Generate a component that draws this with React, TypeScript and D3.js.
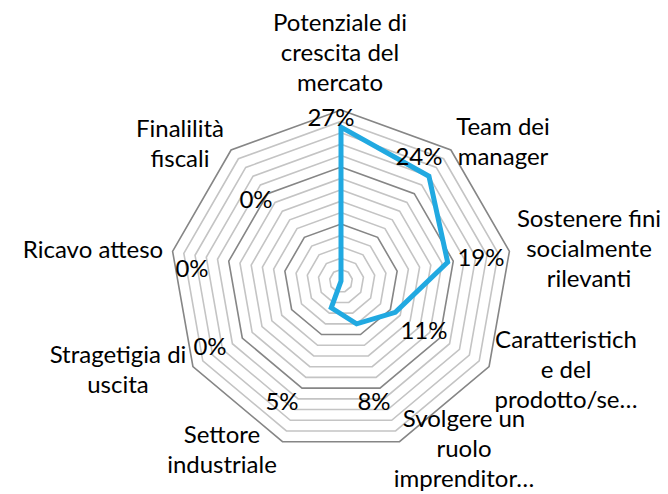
import * as d3 from 'd3'

const W = 668, H = 494
const CX = 341, CY = 281, R = 171

// categories (lines of each label) and values
const categories = [
  ['Potenziale di', 'crescita del', 'mercato'],
  ['Team dei', 'manager'],
  ['Sostenere fini', 'socialmente', 'rilevanti'],
  ['Caratteristich', 'e del', 'prodotto/se…'],
  ['Svolgere un', 'ruolo', 'imprenditor…'],
  ['Settore', 'industriale'],
  ['Stragetigia di', 'uscita'],
  ['Ricavo atteso'],
  ['Finalilità', 'fiscali'],
]
const values = [0.27, 0.24, 0.19, 0.11, 0.08, 0.05, 0, 0, 0]
const valueLabels = ['27%', '24%', '19%', '11%', '8%', '5%', '0%', '0%', '0%']
const gridTicks = d3.range(0.02, 0.3001, 0.02)
const majorTicks = [0.1, 0.2, 0.3]

// label layout: [center x, first baseline]
const catPos: [number, number][] = [
  [340, 31], [503, 135], [589, 227], [566, 348], [464, 427],
  [222, 443], [118, 363], [93, 258], [180, 137],
]
const valPos: [number, number][] = [
  [331, 126], [419, 165], [481, 266], [424, 339], [374, 410],
  [282, 410], [210, 355], [192, 277], [256, 208],
]

const FONT = 'Lato, "Open Sans", sans-serif'
const FS = 24
const LH = 30

export default function App() {
  const n = categories.length
  const r = d3.scaleLinear().domain([0, 0.3]).range([0, R])
  const ang = (i: number) => (i * 2 * Math.PI) / n
  const pt = (i: number, v: number): [number, number] => [
    CX + r(v) * Math.sin(ang(i)),
    CY - r(v) * Math.cos(ang(i)),
  ]
  const ring = (v: number) =>
    d3.line()(d3.range(n).map((i) => pt(i, v))) + 'Z'
  const isMajor = (t: number) => majorTicks.some((m) => Math.abs(m - t) < 1e-6)
  const dataPath = d3.line()(values.map((v, i) => pt(i, v))) + 'Z'

  return (
    <svg width={W} height={H} style={{ position: 'absolute', left: 0, top: 0 }}>
      <rect width={W} height={H} fill="#fff" />
      {gridTicks.filter((t) => !isMajor(t)).map((t) => (
        <path key={'m' + t} d={ring(t)} fill="none" stroke="#c4c4c4" strokeWidth={1.6} />
      ))}
      {majorTicks.map((t) => (
        <path key={'M' + t} d={ring(t)} fill="none" stroke="#868686" strokeWidth={1.6} />
      ))}
      <path d={dataPath} fill="none" stroke="#21a9e1" strokeWidth={5} strokeLinejoin="miter" />
      {categories.map((lines, i) => (
        <text key={'c' + i} x={catPos[i][0]} y={catPos[i][1]} textAnchor="middle"
          fontFamily={FONT} fontSize={FS} fill="#000">
          {lines.map((l, j) => (
            <tspan key={j} x={catPos[i][0]} dy={j === 0 ? 0 : LH}>{l}</tspan>
          ))}
        </text>
      ))}
      {valueLabels.map((l, i) => (
        <text key={'v' + i} x={valPos[i][0]} y={valPos[i][1]} textAnchor="middle"
          fontFamily={FONT} fontSize={FS} fill="#000">{l}</text>
      ))}
    </svg>
  )
}
